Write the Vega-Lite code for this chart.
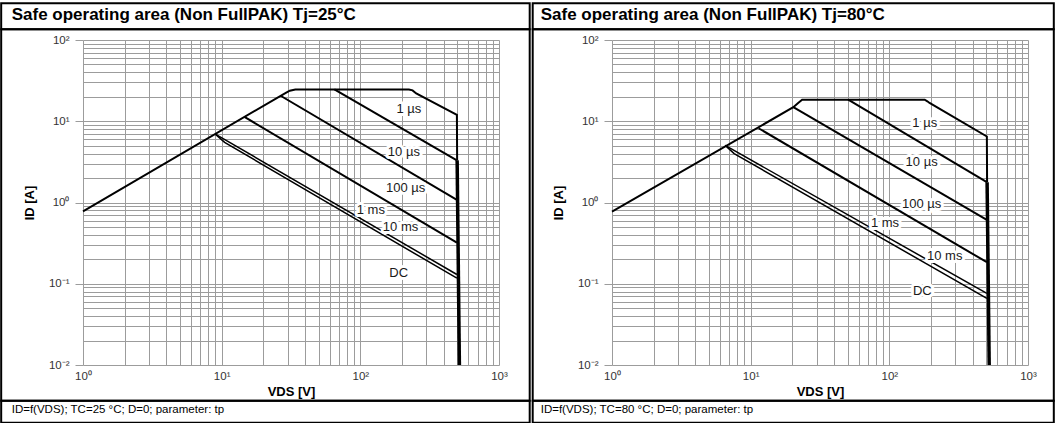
{
  "$schema": "https://vega.github.io/schema/vega-lite/v6.json",
  "background": "white",
  "padding": {"left": 0, "top": 2, "right": 0, "bottom": 0},
  "spacing": 0,
  "config": {
    "font": "Liberation Sans",
    "view": {"stroke": null},
    "axisX": {
      "values": [1,2,3,4,5,6,7,8,9,10,20,30,40,50,60,70,80,90,100,200,300,400,500,600,700,800,900,1000],
      "labelExpr": "datum.value == 1 ? '10⁰' : datum.value == 10 ? '10¹' : datum.value == 100 ? '10²' : datum.value == 1000 ? '10³' : ''",
      "labelFlush": false, "labelOverlap": false, "labelFontSize": 11.5, "labelColor": "#333", "labelPadding": 5,
      "grid": true, "gridColor": "#9c9c9c", "gridWidth": 1, "domain": false, "ticks": false,
      "titleFontSize": 13, "titleFontWeight": "bold", "titleColor": "black", "titlePadding": 4
    },
    "axisY": {
      "values": [0.01,0.02,0.03,0.04,0.05,0.06,0.07,0.08,0.09,0.1,0.2,0.3,0.4,0.5,0.6,0.7,0.8,0.9,1,2,3,4,5,6,7,8,9,10,20,30,40,50,60,70,80,90,100],
      "labelExpr": "datum.value == 0.01 ? '10⁻²' : datum.value == 0.1 ? '10⁻¹' : datum.value == 1 ? '10⁰' : datum.value == 10 ? '10¹' : datum.value == 100 ? '10²' : ''",
      "labelFlush": false, "labelOverlap": false, "labelFontSize": 11.5, "labelColor": "#333", "labelPadding": 6,
      "grid": true, "gridColor": "#9c9c9c", "gridWidth": 1, "domain": false, "ticks": true, "tickSize": 8,
      "titleFontSize": 13, "titleFontWeight": "bold", "titleColor": "black", "titlePadding": 12
    }
  },
  "datasets": {
    "l25": [
      {"curve": "1 µs", "V": 1, "I": 0.78},
      {"curve": "1 µs", "V": 29, "I": 22.4},
      {"curve": "1 µs", "V": 31, "I": 23.8},
      {"curve": "1 µs", "V": 34, "I": 24.6},
      {"curve": "1 µs", "V": 224, "I": 24.6},
      {"curve": "1 µs", "V": 238, "I": 24.0},
      {"curve": "1 µs", "V": 253, "I": 22.0},
      {"curve": "1 µs", "V": 497, "I": 12.0},
      {"curve": "1 µs", "V": 499, "I": 3.3},
      {"curve": "10 µs", "V": 65, "I": 24.6},
      {"curve": "10 µs", "V": 497, "I": 3.29},
      {"curve": "100 µs", "V": 26.6, "I": 20.6},
      {"curve": "100 µs", "V": 497, "I": 1.08},
      {"curve": "1 ms", "V": 14.6, "I": 11.3},
      {"curve": "1 ms", "V": 497, "I": 0.32},
      {"curve": "10 ms", "V": 9, "I": 6.95},
      {"curve": "10 ms", "V": 497, "I": 0.13},
      {"curve": "DC", "V": 9, "I": 6.95},
      {"curve": "DC", "V": 10.5, "I": 5.5},
      {"curve": "DC", "V": 497, "I": 0.117},
      {"curve": "limit", "V": 499, "I": 3.3},
      {"curve": "limit", "V": 518, "I": 0.01}
    ],
    "l80": [
      {"curve": "1 µs", "V": 1, "I": 0.77},
      {"curve": "1 µs", "V": 20.3, "I": 14.9},
      {"curve": "1 µs", "V": 22, "I": 16.8},
      {"curve": "1 µs", "V": 23.5, "I": 18.4},
      {"curve": "1 µs", "V": 180, "I": 18.4},
      {"curve": "1 µs", "V": 188, "I": 17.6},
      {"curve": "1 µs", "V": 195, "I": 16.8},
      {"curve": "1 µs", "V": 505, "I": 6.5},
      {"curve": "1 µs", "V": 507, "I": 1.78},
      {"curve": "10 µs", "V": 50.5, "I": 18.4},
      {"curve": "10 µs", "V": 505, "I": 1.78},
      {"curve": "100 µs", "V": 20.3, "I": 14.9},
      {"curve": "100 µs", "V": 505, "I": 0.61},
      {"curve": "1 ms", "V": 11.4, "I": 8.2},
      {"curve": "1 ms", "V": 505, "I": 0.184},
      {"curve": "10 ms", "V": 6.55, "I": 5.04},
      {"curve": "10 ms", "V": 505, "I": 0.076},
      {"curve": "DC", "V": 6.55, "I": 5.04},
      {"curve": "DC", "V": 7.6, "I": 4.0},
      {"curve": "DC", "V": 505, "I": 0.066},
      {"curve": "limit", "V": 507, "I": 1.78},
      {"curve": "limit", "V": 525, "I": 0.01}
    ],
    "t25": [
      {"label": "1 µs", "V": 224, "I": 14.3},
      {"label": "10 µs", "V": 206, "I": 4.17},
      {"label": "100 µs", "V": 212, "I": 1.52},
      {"label": "1 ms", "V": 119, "I": 0.82},
      {"label": "10 ms", "V": 195, "I": 0.5},
      {"label": "DC", "V": 189, "I": 0.135}
    ],
    "t80": [
      {"label": "1 µs", "V": 180, "I": 9.5},
      {"label": "10 µs", "V": 171, "I": 3.14},
      {"label": "100 µs", "V": 171, "I": 0.945},
      {"label": "1 ms", "V": 93, "I": 0.556},
      {"label": "10 ms", "V": 251, "I": 0.222},
      {"label": "DC", "V": 173, "I": 0.081}
    ]
  },
  "hconcat": [
    {
      "width": 416,
      "height": 325,
      "layer": [
        {
          "encoding": {
            "x": {"field": "V", "type": "quantitative", "scale": {"type": "log", "domain": [1, 1000], "nice": false}, "title": "VDS [V]"},
            "y": {"field": "I", "type": "quantitative", "scale": {"type": "log", "domain": [0.01, 100], "nice": false}, "title": "ID [A]",
              "axis": {"tickColor": {"condition": {"test": "datum.value == 0.01 || datum.value == 0.1 || datum.value == 1 || datum.value == 10 || datum.value == 100", "value": "#9c9c9c"}, "value": "transparent"}}}
          },
          "layer": [
            {
              "data": {"name": "l25"},
              "transform": [{"filter": "datum.curve != 'limit' && datum.curve != '10 ms' && datum.curve != 'DC'"}],
              "mark": {"type": "line", "color": "black", "strokeWidth": 2},
              "encoding": {"detail": {"field": "curve"}}
            },
            {
              "data": {"name": "l25"},
              "transform": [{"filter": "datum.curve == '10 ms' || datum.curve == 'DC'"}],
              "mark": {"type": "line", "color": "black", "strokeWidth": 1.5},
              "encoding": {"detail": {"field": "curve"}}
            },
            {
              "data": {"name": "l25"},
              "transform": [{"filter": "datum.curve == 'limit'"}],
              "mark": {"type": "line", "color": "black", "strokeWidth": 3.5},
              "encoding": {}
            },
            {
              "data": {"name": "t25"},
              "mark": {"type": "text", "fontSize": 13, "stroke": "white", "strokeWidth": 6, "strokeJoin": "round", "fill": "white", "align": "center", "baseline": "middle"},
              "encoding": {"text": {"field": "label"}}
            },
            {
              "data": {"name": "t25"},
              "mark": {"type": "text", "fontSize": 13, "fill": "#1a1a1a", "align": "center", "baseline": "middle"},
              "encoding": {"text": {"field": "label"}}
            }
          ]
        },
        {
          "data": {"values": [{"panel": "25"}]},
          "layer": [
            {
              "mark": {"type": "rect", "filled": false, "stroke": "black", "strokeWidth": 2, "clip": false},
              "encoding": {
                "x": {"datum": 0.257, "type": "quantitative", "scale": {"type": "log", "domain": [1, 1000], "nice": false}},
                "x2": {"datum": 1665},
                "y": {"datum": 283, "type": "quantitative", "scale": {"type": "log", "domain": [0.01, 100], "nice": false}},
                "y2": {"datum": 135.5}
              }
            },
            {
              "mark": {"type": "rect", "filled": false, "stroke": "black", "strokeWidth": 2, "clip": false},
              "encoding": {
                "x": {"datum": 0.257, "type": "quantitative", "scale": {"type": "log", "domain": [1, 1000], "nice": false}},
                "x2": {"datum": 1665},
                "y": {"datum": 135.5, "type": "quantitative", "scale": {"type": "log", "domain": [0.01, 100], "nice": false}},
                "y2": {"datum": 0.00363}
              }
            },
            {
              "mark": {"type": "rect", "filled": false, "stroke": "black", "strokeWidth": 2, "clip": false},
              "encoding": {
                "x": {"datum": 0.257, "type": "quantitative", "scale": {"type": "log", "domain": [1, 1000], "nice": false}},
                "x2": {"datum": 1665},
                "y": {"datum": 0.00363, "type": "quantitative", "scale": {"type": "log", "domain": [0.01, 100], "nice": false}},
                "y2": {"datum": 0.00195}
              }
            },
            {
              "mark": {"type": "text", "text": "Safe operating area (Non FullPAK) Tj=25°C", "fontSize": 17, "fontWeight": "bold", "fill": "black", "align": "left", "baseline": "middle", "clip": false},
              "encoding": {
                "x": {"datum": 0.306, "type": "quantitative", "scale": {"type": "log", "domain": [1, 1000], "nice": false}},
                "y": {"datum": 201, "type": "quantitative", "scale": {"type": "log", "domain": [0.01, 100], "nice": false}}
              }
            },
            {
              "mark": {"type": "text", "text": "ID=f(VDS); TC=25 °C; D=0; parameter: tp", "fontSize": 11.5, "fill": "black", "align": "left", "baseline": "middle", "clip": false},
              "encoding": {
                "x": {"datum": 0.306, "type": "quantitative", "scale": {"type": "log", "domain": [1, 1000], "nice": false}},
                "y": {"datum": 0.00281, "type": "quantitative", "scale": {"type": "log", "domain": [0.01, 100], "nice": false}}
              }
            }
          ]
        }
      ]
    },
    {
      "width": 416,
      "height": 325,
      "layer": [
        {
          "encoding": {
            "x": {"field": "V", "type": "quantitative", "scale": {"type": "log", "domain": [1, 1000], "nice": false}, "title": "VDS [V]"},
            "y": {"field": "I", "type": "quantitative", "scale": {"type": "log", "domain": [0.01, 100], "nice": false}, "title": "ID [A]",
              "axis": {"tickColor": {"condition": {"test": "datum.value == 0.01 || datum.value == 0.1 || datum.value == 1 || datum.value == 10 || datum.value == 100", "value": "#9c9c9c"}, "value": "transparent"}}}
          },
          "layer": [
            {
              "data": {"name": "l80"},
              "transform": [{"filter": "datum.curve != 'limit' && datum.curve != '10 ms' && datum.curve != 'DC'"}],
              "mark": {"type": "line", "color": "black", "strokeWidth": 2},
              "encoding": {"detail": {"field": "curve"}}
            },
            {
              "data": {"name": "l80"},
              "transform": [{"filter": "datum.curve == '10 ms' || datum.curve == 'DC'"}],
              "mark": {"type": "line", "color": "black", "strokeWidth": 1.5},
              "encoding": {"detail": {"field": "curve"}}
            },
            {
              "data": {"name": "l80"},
              "transform": [{"filter": "datum.curve == 'limit'"}],
              "mark": {"type": "line", "color": "black", "strokeWidth": 3.5},
              "encoding": {}
            },
            {
              "data": {"name": "t80"},
              "mark": {"type": "text", "fontSize": 13, "stroke": "white", "strokeWidth": 6, "strokeJoin": "round", "fill": "white", "align": "center", "baseline": "middle"},
              "encoding": {"text": {"field": "label"}}
            },
            {
              "data": {"name": "t80"},
              "mark": {"type": "text", "fontSize": 13, "fill": "#1a1a1a", "align": "center", "baseline": "middle"},
              "encoding": {"text": {"field": "label"}}
            }
          ]
        },
        {
          "data": {"values": [{"panel": "80"}]},
          "layer": [
            {
              "mark": {"type": "rect", "filled": false, "stroke": "black", "strokeWidth": 2, "clip": false},
              "encoding": {
                "x": {"datum": 0.268, "type": "quantitative", "scale": {"type": "log", "domain": [1, 1000], "nice": false}},
                "x2": {"datum": 1535},
                "y": {"datum": 283, "type": "quantitative", "scale": {"type": "log", "domain": [0.01, 100], "nice": false}},
                "y2": {"datum": 135.5}
              }
            },
            {
              "mark": {"type": "rect", "filled": false, "stroke": "black", "strokeWidth": 2, "clip": false},
              "encoding": {
                "x": {"datum": 0.268, "type": "quantitative", "scale": {"type": "log", "domain": [1, 1000], "nice": false}},
                "x2": {"datum": 1535},
                "y": {"datum": 135.5, "type": "quantitative", "scale": {"type": "log", "domain": [0.01, 100], "nice": false}},
                "y2": {"datum": 0.00363}
              }
            },
            {
              "mark": {"type": "rect", "filled": false, "stroke": "black", "strokeWidth": 2, "clip": false},
              "encoding": {
                "x": {"datum": 0.268, "type": "quantitative", "scale": {"type": "log", "domain": [1, 1000], "nice": false}},
                "x2": {"datum": 1535},
                "y": {"datum": 0.00363, "type": "quantitative", "scale": {"type": "log", "domain": [0.01, 100], "nice": false}},
                "y2": {"datum": 0.00195}
              }
            },
            {
              "mark": {"type": "text", "text": "Safe operating area (Non FullPAK) Tj=80°C", "fontSize": 17, "fontWeight": "bold", "fill": "black", "align": "left", "baseline": "middle", "clip": false},
              "encoding": {
                "x": {"datum": 0.306, "type": "quantitative", "scale": {"type": "log", "domain": [1, 1000], "nice": false}},
                "y": {"datum": 201, "type": "quantitative", "scale": {"type": "log", "domain": [0.01, 100], "nice": false}}
              }
            },
            {
              "mark": {"type": "text", "text": "ID=f(VDS); TC=80 °C; D=0; parameter: tp", "fontSize": 11.5, "fill": "black", "align": "left", "baseline": "middle", "clip": false},
              "encoding": {
                "x": {"datum": 0.306, "type": "quantitative", "scale": {"type": "log", "domain": [1, 1000], "nice": false}},
                "y": {"datum": 0.00281, "type": "quantitative", "scale": {"type": "log", "domain": [0.01, 100], "nice": false}}
              }
            }
          ]
        }
      ]
    }
  ]
}
